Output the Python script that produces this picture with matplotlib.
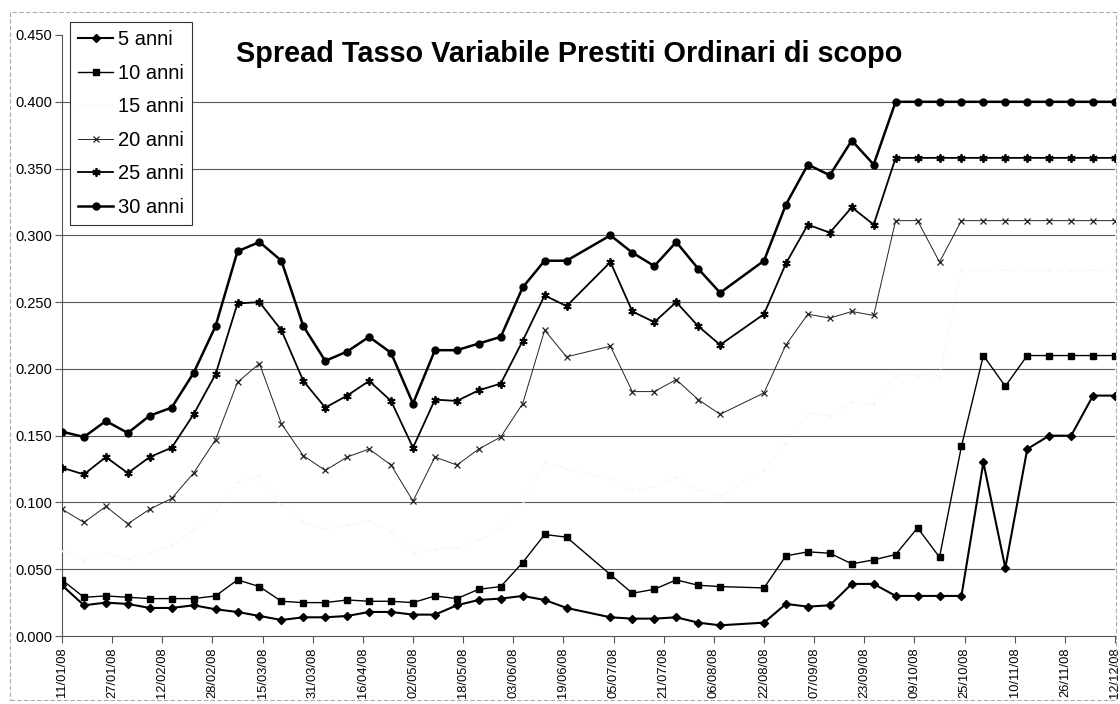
import matplotlib
matplotlib.use("Agg")
import matplotlib.pyplot as plt
import matplotlib.dates as mdates
from matplotlib.patches import Rectangle
import pandas as pd

plt.rcParams['font.family'] = ['Liberation Sans', 'DejaVu Sans']

title = "Spread Tasso Variabile Prestiti Ordinari di scopo"

dates = ["2008-01-11", "2008-01-18", "2008-01-25", "2008-02-01", "2008-02-08", "2008-02-15",
         "2008-02-22", "2008-02-29", "2008-03-07", "2008-03-14", "2008-03-21", "2008-03-28",
         "2008-04-04", "2008-04-11", "2008-04-18", "2008-04-25", "2008-05-02", "2008-05-09",
         "2008-05-16", "2008-05-23", "2008-05-30", "2008-06-06", "2008-06-13", "2008-06-20",
         "2008-07-04", "2008-07-11", "2008-07-18", "2008-07-25", "2008-08-01", "2008-08-08",
         "2008-08-22", "2008-08-29", "2008-09-05", "2008-09-12", "2008-09-19", "2008-09-26",
         "2008-10-03", "2008-10-10", "2008-10-17", "2008-10-24", "2008-10-31", "2008-11-07",
         "2008-11-14", "2008-11-21", "2008-11-28", "2008-12-05", "2008-12-12"]

anni_5 = [0.038, 0.023, 0.025, 0.024, 0.021, 0.021, 0.023, 0.020, 0.018, 0.015,
          0.012, 0.014, 0.014, 0.015, 0.018, 0.018, 0.016, 0.016, 0.023, 0.027,
          0.028, 0.030, 0.027, 0.021, 0.014, 0.013, 0.013, 0.014, 0.010, 0.008,
          0.010, 0.024, 0.022, 0.023, 0.039, 0.039, 0.030, 0.030, 0.030, 0.030,
          0.130, 0.051, 0.140, 0.150, 0.150, 0.180, 0.180]

anni_10 = [0.042, 0.029, 0.030, 0.029, 0.028, 0.028, 0.028, 0.030, 0.042, 0.037,
           0.026, 0.025, 0.025, 0.027, 0.026, 0.026, 0.025, 0.030, 0.028, 0.035,
           0.037, 0.055, 0.076, 0.074, 0.046, 0.032, 0.035, 0.042, 0.038, 0.037,
           0.036, 0.060, 0.063, 0.062, 0.054, 0.057, 0.061, 0.081, 0.059, 0.142,
           0.210, 0.187, 0.210, 0.210, 0.210, 0.210, 0.210]

anni_15 = [0.064, 0.057, 0.062, 0.058, 0.062, 0.068, 0.079, 0.094, 0.115, 0.120,
           0.098, 0.085, 0.080, 0.083, 0.086, 0.078, 0.062, 0.065, 0.066, 0.072,
           0.080, 0.100, 0.130, 0.125, 0.118, 0.109, 0.112, 0.119, 0.109, 0.105,
           0.124, 0.144, 0.167, 0.165, 0.175, 0.174, 0.195, 0.195, 0.195, 0.274,
           0.274, 0.274, 0.274, 0.274, 0.274, 0.274, 0.274]

anni_20 = [0.095, 0.085, 0.097, 0.084, 0.095, 0.103, 0.122, 0.147, 0.190, 0.204,
           0.159, 0.135, 0.124, 0.134, 0.140, 0.128, 0.101, 0.134, 0.128, 0.140,
           0.149, 0.174, 0.229, 0.209, 0.217, 0.183, 0.183, 0.192, 0.177, 0.166,
           0.182, 0.218, 0.241, 0.238, 0.243, 0.240, 0.311, 0.311, 0.280, 0.311,
           0.311, 0.311, 0.311, 0.311, 0.311, 0.311, 0.311]

anni_25 = [0.126, 0.121, 0.134, 0.122, 0.134, 0.141, 0.166, 0.196, 0.249, 0.250,
           0.229, 0.191, 0.171, 0.180, 0.191, 0.176, 0.141, 0.177, 0.176, 0.184,
           0.189, 0.221, 0.255, 0.247, 0.280, 0.243, 0.235, 0.250, 0.232, 0.218,
           0.241, 0.279, 0.308, 0.302, 0.321, 0.308, 0.358, 0.358, 0.358, 0.358,
           0.358, 0.358, 0.358, 0.358, 0.358, 0.358, 0.358]

anni_30 = [0.153, 0.149, 0.161, 0.152, 0.165, 0.171, 0.197, 0.232, 0.288, 0.295,
           0.281, 0.232, 0.206, 0.213, 0.224, 0.212, 0.174, 0.214, 0.214, 0.219,
           0.224, 0.261, 0.281, 0.281, 0.300, 0.287, 0.277, 0.295, 0.275, 0.257,
           0.281, 0.323, 0.353, 0.345, 0.371, 0.353, 0.400, 0.400, 0.400, 0.400,
           0.400, 0.400, 0.400, 0.400, 0.400, 0.400, 0.400]

labels = ["5 anni", "10 anni", "15 anni", "20 anni", "25 anni", "30 anni"]
y_ticks = [0.000, 0.050, 0.100, 0.150, 0.200, 0.250, 0.300, 0.350, 0.400, 0.450]

x = pd.to_datetime(dates)

fig = plt.figure(figsize=(11.2, 7.04), dpi=100)
ax = fig.add_axes([62 / 1120, 1 - 636 / 704, (1115 - 62) / 1120, (636 - 35) / 704])

# gridlines
for v in y_ticks[1:-1]:
    ax.axhline(v, color='#5a5a5a', lw=0.8, zorder=1)

series = [anni_5, anni_10, anni_15, anni_20, anni_25, anni_30]
styles = [
    dict(color='black', lw=1.5, marker='D', ms=4.5),
    dict(color='black', lw=1.0, marker='s', ms=5),
    dict(color='#f0f0f0', lw=0.8, ls=':', marker='.', ms=1),
    dict(color='#222222', lw=0.7, marker='x', ms=5, mew=0.9),
    dict(color='black', lw=1.3, marker=(6, 2, 0), ms=6, mew=1.3),
    dict(color='black', lw=1.8, marker='o', ms=5),
]
for s, st, lab in zip(series, styles, labels):
    ax.plot(x, s, label=lab, zorder=3, **st)

ax.set_ylim(0, 0.45)
ax.set_xlim(x[0], x[-1])
ax.set_yticks(y_ticks)
ax.set_yticklabels([f"{v:.3f}" for v in y_ticks], fontsize=10.5)

xt = pd.date_range(start=x[0], end=x[-1], freq='16D')
ax.set_xticks(xt)
ax.xaxis.set_major_formatter(mdates.DateFormatter('%d/%m/%y'))
for lab in ax.get_xticklabels():
    lab.set_rotation(90)
    lab.set_fontsize(9.3)

ax.tick_params(axis='both', direction='out', length=5, width=0.8, color='#555555')
ax.tick_params(axis='y', pad=2)
for sp in ['top', 'right']:
    ax.spines[sp].set_visible(False)
ax.spines['left'].set_color('#555555')
ax.spines['bottom'].set_color('#555555')

leg = ax.legend(loc='upper left', bbox_to_anchor=(70 / 1120, 1 - 22 / 704),
                bbox_transform=fig.transFigure, borderaxespad=0, fontsize=14.5,
                frameon=True, fancybox=False, framealpha=1, edgecolor='#333333',
                handlelength=1.7, handletextpad=0.25, labelspacing=0.72,
                borderpad=0.42)
leg.get_frame().set_linewidth(0.8)
leg.set_zorder(10)

fig.text(0.508, 0.924, title, ha='center', va='center', fontsize=20.8, fontweight='bold')

fig.patches.append(Rectangle((10 / 1120, 4 / 704), 1106 / 1120, 688 / 704,
                             transform=fig.transFigure, fill=False,
                             ec='#aaaaaa', lw=0.8, ls=(0, (4, 2))))

fig.savefig('out.png', dpi=100)
